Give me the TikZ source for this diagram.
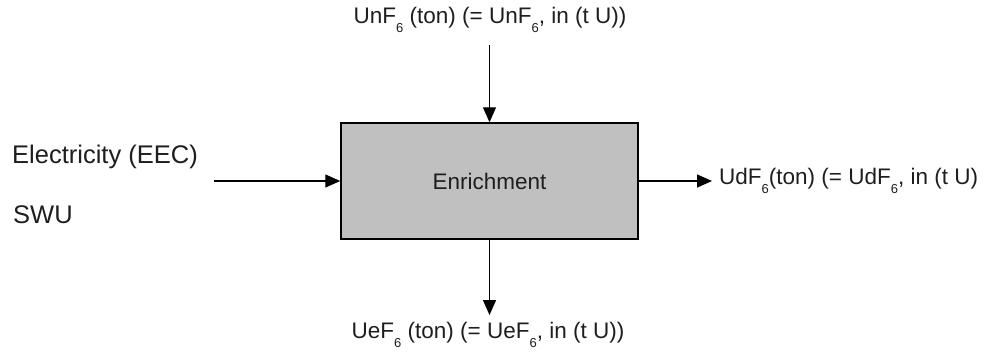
\documentclass[tikz,border=0pt]{standalone}
\usepackage{fontspec}
\setmainfont{Liberation Sans}
\usetikzlibrary{arrows.meta}
\definecolor{boxgray}{HTML}{C0C0C0}
\definecolor{inkgray}{HTML}{1E1E1E}
\newcommand{\sixlow}{\raisebox{-0.7ex}{\fontsize{13}{13}\selectfont 6}}
\begin{document}
\begin{tikzpicture}[x=1pt, y=-1pt,
        flow/.style = {line width=1.4pt, -{Triangle[length=15pt,width=13pt]}},
        lbl/.style = {inner sep=0pt, text=inkgray, font=\fontsize{22.5}{26}\selectfont}]
    \useasboundingbox (0,0) rectangle (993,354);
    \node[draw, line width=1.5pt, fill=boxgray, minimum width=297pt, minimum height=116pt,
          text=inkgray, font=\fontsize{22.5}{26}\selectfont] (enrich) at (489.5,181) {Enrichment};
    \node[lbl] (unf) at (490,20) {UnF\sixlow{} (ton) (= UnF\sixlow, in (t U))};
    \node[lbl] (uef) at (488,335) {UeF\sixlow{} (ton) (= UeF\sixlow, in (t U))};
    \node[lbl, anchor=west] (udf) at (719,181) {UdF\sixlow(ton) (= UdF\sixlow, in (t U)};
    \node[lbl, anchor=west, font=\fontsize{25.5}{30}\selectfont] (eec) at (12,157) {Electricity (EEC)};
    \node[lbl, anchor=west, font=\fontsize{25.5}{30}\selectfont] (swu) at (13,215) {SWU};
    \coordinate (intop) at (489.5,45);
    \coordinate (inleft) at (214,181);
    \coordinate (outright) at (712,181);
    \coordinate (outdown) at (489.5,315);
    \draw[flow] (intop) -- (enrich.north);
    \draw[flow] (inleft) -- (enrich.west);
    \draw[flow] (enrich.east) -- (outright);
    \draw[flow] (enrich.south) -- (outdown);
\end{tikzpicture}
\end{document}
